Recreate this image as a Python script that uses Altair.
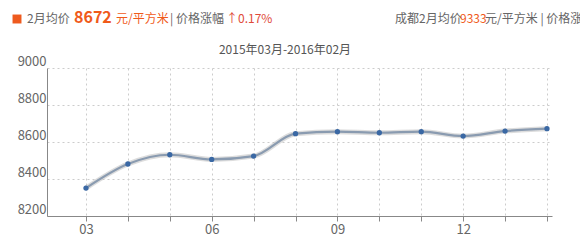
import altair as alt
import pandas as pd

months = ["03", "04", "05", "06", "07", "08", "09", "10", "11", "12", "01", "02"]
prices = [8351, 8481, 8531, 8506, 8524, 8645, 8656, 8650, 8656, 8632, 8659, 8672]
y_ticks = [8200, 8400, 8600, 8800, 9000]

df = pd.DataFrame({"idx": list(range(len(months))), "month": months, "price": prices})

FONT = "Noto Sans CJK SC"
W, H = 505, 148

x = alt.X("idx:Q", scale=alt.Scale(domain=[-0.93, 11.12], nice=False, zero=False),
          axis=alt.Axis(values=list(range(12)), labelExpr="datum.value % 3 == 0 ? ['03','04','05','06','07','08','09','10','11','12','01','02'][datum.value] : ''",
                        grid=True, gridDash=[2, 3], gridColor="#cccccc", tickColor="#888888", tickSize=5,
                        domainColor="#888888", labelColor="#666666", labelFontSize=13, labelFont=FONT,
                        labelPadding=2, title=None))
y = alt.Y("price:Q", scale=alt.Scale(domain=[8200, 9000], nice=False, zero=False),
          axis=alt.Axis(values=y_ticks, format="d", grid=True, gridDash=[2, 3], gridColor="#cccccc", tickSize=0,
                        domainColor="#888888", labelColor="#666666", labelFontSize=13, labelFont=FONT,
                        labelPadding=1, labelBaseline="bottom", title=None))

base = alt.Chart(df)
shadow = base.mark_line(interpolate="monotone", color="#bbbbbb", strokeWidth=5, opacity=0.5).encode(x=x, y=y)
line = base.mark_line(interpolate="monotone", color="#8a9bb0", strokeWidth=2.2).encode(x=x, y=y)
pts = base.mark_circle(color="#3a68a4", size=28, opacity=1).encode(x=x, y=y)

def txt(text, px, py, color="#666666", size=12, weight="normal", align="left"):
    return alt.Chart(pd.DataFrame({"t": [text]})).mark_text(
        align=align, baseline="middle", font=FONT, fontSize=size, fontWeight=weight, color=color
    ).encode(x=alt.value(px - 47), y=alt.value(py - 68), text="t:N")

square = alt.Chart(pd.DataFrame({"a": [1]})).mark_square(color="#ee5a1e", size=80, opacity=1).encode(
    x=alt.value(17 - 47), y=alt.value(19 - 68))

header = [
    txt("2月均价", 27, 19),
    txt("8672", 74, 18, color="#f05a1a", size=16, weight="bold"),
    txt("元/平方米", 116, 19, color="#f05a1a", size=12),
    txt("| 价格涨幅", 170, 19),
    txt("↑0.17%", 226, 19, color="#e04a3a"),
    txt("成都2月均价", 395, 19),
    txt("9333", 460, 19, color="#f05a1a"),
    txt("元/平方米 | 价格涨幅", 485, 19),
    txt("2015年03月-2016年02月", 285, 50, color="#555555", size=12, align="center"),
]

chart = alt.layer(shadow, line, pts, square, *header).properties(
    width=W, height=H, autosize=alt.AutoSizeParams(type="none"),
    padding={"left": 47, "top": 68, "right": 28, "bottom": 34},
    background="white",
).configure_view(stroke=None)

chart.save("out.html", embed_options={"renderer": "svg", "actions": False})
